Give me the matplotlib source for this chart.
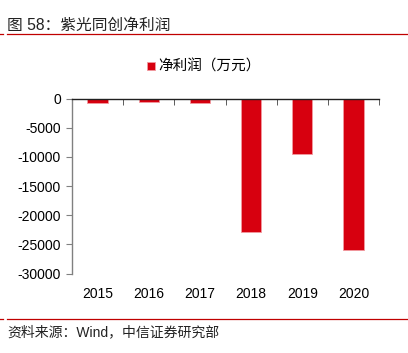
import matplotlib.pyplot as plt
import numpy as np

plt.rcParams['font.family'] = ['Liberation Sans', 'Noto Sans CJK SC', 'DejaVu Sans']

years = ['2015', '2016', '2017', '2018', '2019', '2020']
net_profit = [-800, -600, -850, -22800, -9500, -26000]
series_name = '净利润（万元）'
title = '图 58：紫光同创净利润'
source = '资料来源：Wind，中信证券研究部'

W, H = 408, 353
fig = plt.figure(figsize=(W / 100, H / 100), dpi=100)
ax = fig.add_axes([72 / W, 1 - 273.5 / H, (379 - 72) / W, (273.5 - 98.5) / H])

x = np.arange(len(years))
ax.bar(x, net_profit, 0.4, color='#D7000F', edgecolor='#F29AA0', linewidth=0.6,
       label=series_name, zorder=2)

ax.set_xlim(-0.5, len(years) - 0.5)
ax.set_ylim(-30000, 0)
ax.set_yticks(np.arange(-30000, 1, 5000))
ax.set_yticklabels([str(v) for v in range(-30000, 1, 5000)], fontsize=10)
ax.set_xticks(x)
ax.set_xticklabels(years, fontsize=10)
ax.tick_params(axis='x', length=0, pad=10)
ax.tick_params(axis='y', length=4, color='#808080', pad=4)

# category separators on the zero line
ax.set_xticks(np.arange(-0.5, len(years), 1), minor=True)
ax.tick_params(axis='x', which='minor', top=True, bottom=False, direction='in',
               length=4, color='#404040')

for s in ['right', 'bottom']:
    ax.spines[s].set_visible(False)
ax.spines['left'].set_color('#808080')
ax.spines['left'].set_linewidth(1.0)
ax.spines['top'].set_color('#202020')
ax.spines['top'].set_linewidth(1.0)

ax.legend(loc='center', bbox_to_anchor=(204 / W, 1 - 67 / H), bbox_transform=fig.transFigure,
          frameon=False, fontsize=10.5, handlelength=0.55, handleheight=0.55, handletextpad=0.25)

fig.text(7 / W, 1 - 25 / H, title, fontsize=11.3, color='#222222', va='center', ha='left')
fig.add_artist(plt.Line2D([7 / W, 1], [1 - 33.5 / H] * 2, color='#C00000', lw=0.9))
fig.add_artist(plt.Line2D([0, 3 / W], [1 - 33.5 / H] * 2, color='#C00000', lw=0.9))
fig.add_artist(plt.Line2D([7 / W, 1], [1 - 318.5 / H] * 2, color='#C00000', lw=0.9))
fig.add_artist(plt.Line2D([0, 3 / W], [1 - 318.5 / H] * 2, color='#C00000', lw=0.9))
fig.text(7 / W, 1 - 332 / H, source, fontsize=10, color='#222222', va='center', ha='left')

fig.savefig('out.png', dpi=100)
